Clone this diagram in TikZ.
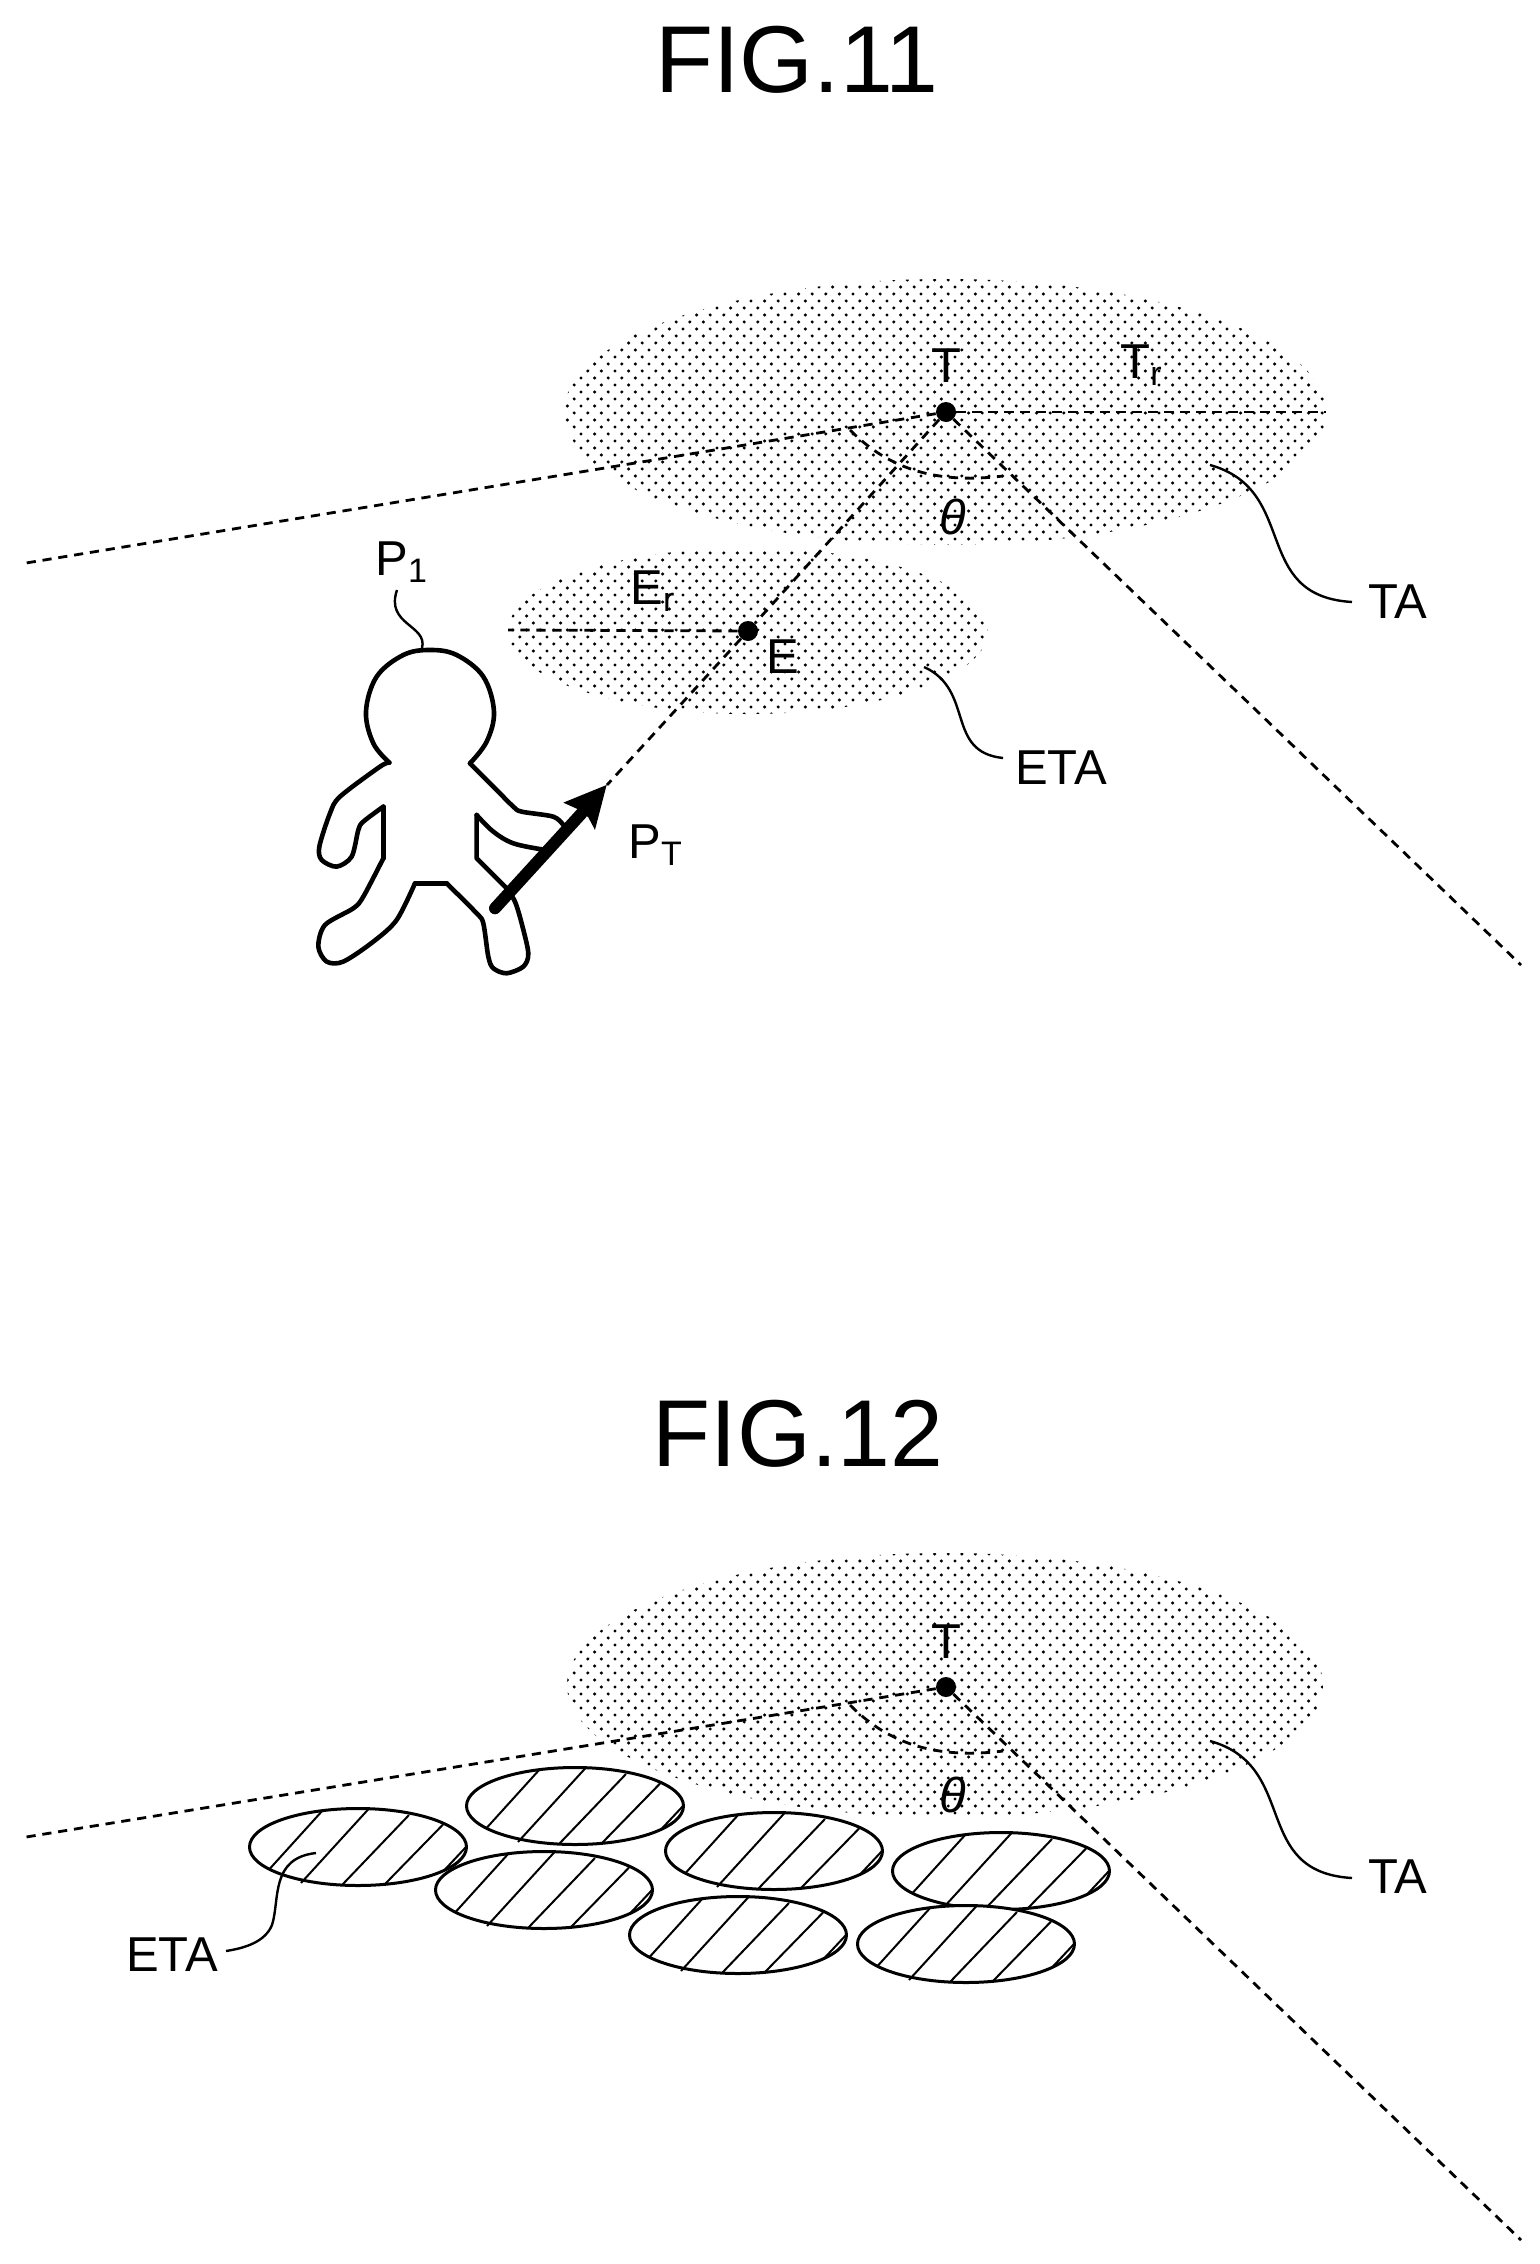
\documentclass[tikz,border=0pt]{standalone}
\usepackage{fontspec}
\setmainfont{Liberation Sans}
\usetikzlibrary{patterns}
\pgfdeclarepatternformonly{stipple}{\pgfqpoint{-1pt}{-1pt}}{\pgfqpoint{8pt}{8pt}}{\pgfqpoint{6.8pt}{7pt}}{%
  \pgfpathcircle{\pgfqpoint{1.5pt}{1.5pt}}{0.85pt}%
  \pgfpathcircle{\pgfqpoint{4.9pt}{5pt}}{0.85pt}%
  \pgfusepath{fill}}
\newcommand{\subtxt}[1]{\raisebox{-3.5pt}{\fontsize{17pt}{17pt}\selectfont #1}}
\tikzset{
  dashline/.style={line width=1.4pt,dash pattern=on 4.6pt off 3.4pt},
  dotarea/.style={pattern=stipple,pattern color=black},
  pt/.style={circle,fill=black,inner sep=0pt,minimum size=10pt},
  lab/.style={inner sep=0pt,font=\fontsize{24.5pt}{24.5pt}\selectfont},
  title/.style={inner sep=0pt,font=\fontsize{47.5pt}{47.5pt}\selectfont},
  leader/.style={line width=1.2pt},
  outline/.style={line width=2.3pt,line join=round,line cap=round},
  hatchell/.pic={
    \draw[line width=1.5pt,fill=white] (0,0) ellipse [x radius=108.5,y radius=38.5];
    \draw[line width=1pt] (-89,22.6)--(-35,-37) (-57,36)--(11,-38.5) (-16,38)--(51,-32) (27,37)--(86,-23.5) (86,23.5)--(108,0);
  }
}
\begin{document}
\begin{tikzpicture}[x=0.5pt,y=-0.5pt]
\useasboundingbox[fill=white] (0,0) rectangle (1540,2264);
% ---------- FIG.11
\node[title] (f11) at (797,60) {FIG.11};
\fill[dotarea] (945,412) ellipse [x radius=381,y radius=133];
\fill[dotarea] (748,631) ellipse [x radius=240,y radius=83];
\node[pt] (T) at (946,412) {};
\node[pt] (E) at (748,631) {};
\coordinate (L) at (20,564);
\coordinate (R) at (1521,965);
\coordinate (Tre) at (1326,412);
\coordinate (Ere) at (508,630);
\coordinate (tip) at (607,785);
\draw[dashline] (T) -- (L);
\draw[dashline] (T) -- (R);
\draw[dashline] (T) -- (Tre);
\draw[dashline] (E) -- (Ere);
\draw[dashline] (T) -- (E);
\draw[dashline] (E) -- (tip);
\draw[dashline] (850,430) .. controls (885,465) and (930,485) .. (1003,476);
\node[lab] (lT) at (946,366) {T};
\node[lab,anchor=base west] (lTr) at (1120,378) {T\subtxt{r}};
\node[lab] (lth) at (953,517) {\itshape θ};
\node[lab,anchor=base west] (lEr) at (630,604) {E\subtxt{r}};
\node[lab] (lE) at (783,657) {E};
\node[lab] (lTA) at (1398,602) {TA};
\node[lab] (lETA) at (1061,768) {ETA};
\node[lab,anchor=base west] (lP1) at (375,575) {P\subtxt{1}};
\node[lab,anchor=base west] (lPT) at (628,858) {P\subtxt{T}};
\coordinate (taS) at (1210,465);
\coordinate (taE) at (1352,602);
\draw[leader] (taS) .. controls (1300,490) and (1250,596) .. (taE);
\coordinate (etaS) at (924,667);
\coordinate (etaE) at (1003,758);
\draw[leader] (etaS) .. controls (975,690) and (945,752) .. (etaE);
\coordinate (pS) at (397,590);
\coordinate (pE) at (422,648);
\draw[leader] (pS) .. controls (385,625) and (428,625) .. (pE);
% person
\begin{scope}[shift={(280,520)},scale=0.3333]
\draw[outline] plot[smooth,tension=.6] coordinates {(328,728)(280,670)(258,575)(290,470)(370,405)(450,390)(530,405)(610,470)(642,575)(620,665)(570,730)};
\draw[outline] plot[smooth,tension=.5] coordinates {(570,730)(640,800)(700,860)(725,875)(820,890)(850,915)};
\draw[outline] plot[smooth,tension=.6] coordinates {(785,988)(700,970)(640,935)(590,885)};
\draw[outline] (590,885)--(590,1015)--(680,1105);
\draw[outline] plot[smooth,tension=.5] coordinates {(680,1105)(705,1145)(725,1210)(745,1300)(730,1340)(680,1360)(640,1345)(625,1310)(610,1210)(590,1180)(500,1090)};
\draw[outline] (500,1090)--(405,1090);
\draw[outline] plot[smooth,tension=.5] coordinates {(405,1090)(350,1200)(280,1265)(190,1325)(140,1325)(115,1280)(135,1215)(220,1165)(250,1130)(310,1015)};
\draw[outline] (310,1015)--(310,860);
\draw[outline] plot[smooth,tension=.5] coordinates {(310,860)(250,905)(235,930)(215,1010)(170,1040)(125,1020)(118,980)(150,880)(180,830)(300,740)(328,728)};
\draw[line width=6pt,line cap=round] (645,1165)--(905,880);
\fill (980,795)--(850,848)--(890,866)--(925,892)--(945,930)--cycle;
\end{scope}
% ---------- FIG.12
\node[title] (f12) at (798,1434) {FIG.12};
\fill[dotarea] (945,1685) ellipse [x radius=378,y radius=132];
\node[pt] (T2) at (946,1687) {};
\coordinate (L2) at (20,1838);
\coordinate (R2) at (1521,2240);
\draw[dashline] (T2) -- (L2);
\draw[dashline] (T2) -- (R2);
\draw[dashline] (850,1705) .. controls (885,1740) and (930,1760) .. (1003,1751);
\node[lab] (lT2) at (946,1642) {T};
\node[lab] (lth2) at (953,1795) {\itshape θ};
\node[lab] (lTA2) at (1398,1877) {TA};
\node[lab] (lETA2) at (172,1955) {ETA};
\coordinate (taS2) at (1210,1741);
\coordinate (taE2) at (1352,1878);
\draw[leader] (taS2) .. controls (1300,1766) and (1250,1872) .. (taE2);
\pic at (358,1847) {hatchell};
\pic at (575,1806) {hatchell};
\pic at (544,1890) {hatchell};
\pic at (774,1851) {hatchell};
\pic at (738,1935) {hatchell};
\pic at (1001,1871) {hatchell};
\pic at (966,1944) {hatchell};
\coordinate (eS) at (316,1853);
\coordinate (eE) at (226,1951);
\draw[leader] (eS) .. controls (270,1858) and (280,1900) .. (272,1925) .. controls (265,1942) and (245,1948) .. (eE);
\end{tikzpicture}
\end{document}
